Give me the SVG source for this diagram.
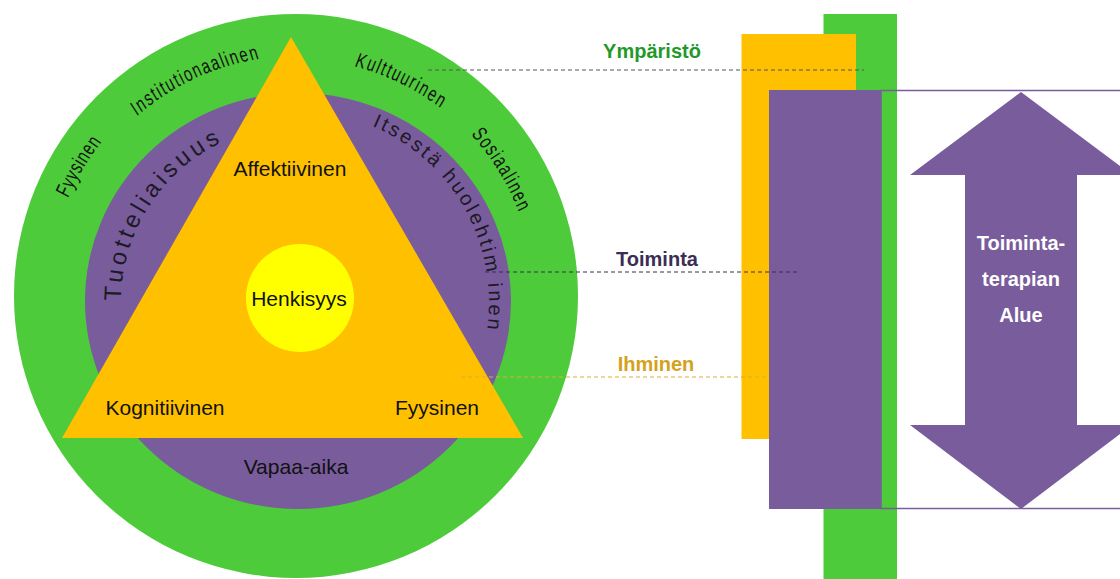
<svg xmlns="http://www.w3.org/2000/svg" xmlns:xlink="http://www.w3.org/1999/xlink" width="1120" height="579" viewBox="0 0 1120 579">
<style>
.green{fill:#4ECB3A}
.purple{fill:#795C9C}
.amber{fill:#FFC000}
.lbl{font-family:"Liberation Sans",Arial,sans-serif;font-size:21px;fill:#111;text-anchor:middle}
.ring{font-family:"Liberation Sans",Arial,sans-serif;font-size:21px;fill:#111;text-anchor:middle}
.ring2{font-family:"Liberation Sans",Arial,sans-serif;fill:#1c1a24}
.side{font-family:"Liberation Sans",Arial,sans-serif;font-size:20px;font-weight:bold;text-anchor:middle}
.arrowtxt{font-family:"Liberation Sans",Arial,sans-serif;font-size:20px;font-weight:bold;fill:#fff;text-anchor:middle}
.dash{stroke-width:1;stroke-dasharray:4 3;fill:none}
</style>
<defs>
<path id="e248" d="M -354.3,0 A 354.3 248 0 0 1 354.3,0"/>
<path id="e240" d="M -342.9,0 A 342.9 240 0 0 1 342.9,0"/>
<path id="e237" d="M -338.6,0 A 338.6 237 0 0 1 338.6,0"/>
<path id="e238" d="M -340,0 A 340 238 0 0 1 340,0"/>
<path id="p177" d="M 121,302 A 177 177 0 0 1 475,302 A 177 177 0 0 1 298,479"/>
<path id="p191" d="M 107,302 A 191 191 0 0 1 489,302 A 191 191 0 0 1 298,493"/>
</defs>

<g id="environment-ring">
<circle class="green" cx="296" cy="296" r="282"/>
<g transform="translate(296,296) rotate(-59.2) scale(0.7,1)">
<text class="ring"><textPath xlink:href="#e248" startOffset="50%" textLength="94" lengthAdjust="spacing">Fyysinen</textPath></text>
</g>
<g transform="translate(296,296) rotate(-25.2) scale(0.7,1)">
<text class="ring"><textPath xlink:href="#e240" startOffset="50%" textLength="195" lengthAdjust="spacing">Institutionaalinen</textPath></text>
</g>
<g transform="translate(296,296) rotate(25.9) scale(0.7,1)">
<text class="ring"><textPath xlink:href="#e237" startOffset="50%" textLength="138" lengthAdjust="spacing">Kulttuurinen</textPath></text>
</g>
<g transform="translate(296,296) rotate(58.3) scale(0.7,1)">
<text class="ring"><textPath xlink:href="#e238" startOffset="50%" textLength="131" lengthAdjust="spacing">Sosiaalinen</textPath></text>
</g>
</g>

<g id="occupation-ring">
<ellipse class="purple" cx="298" cy="301" rx="213" ry="208"/>
<text class="ring2" font-size="24"><textPath xlink:href="#p177" startOffset="1" textLength="197" lengthAdjust="spacing">Tuotteliaisuus</textPath></text>
<text class="ring2" font-size="20"><textPath xlink:href="#p191" startOffset="376" textLength="251" lengthAdjust="spacing">Itsestä huolehtim inen</textPath></text>
<text class="lbl" x="296" y="474">Vapaa-aika</text>
</g>

<g id="person-triangle">
<polygon class="amber" points="291,37 523,438 62,438"/>
<text class="lbl" x="290" y="176">Affektiivinen</text>
<text class="lbl" x="165" y="415">Kognitiivinen</text>
<text class="lbl" x="437" y="415">Fyysinen</text>
</g>

<g id="spirituality">
<circle cx="300" cy="298" r="54" fill="#FFFF00"/>
<text class="lbl" x="299" y="306">Henkisyys</text>
</g>

<g id="bars">
<rect class="green" x="823.5" y="14" width="73.5" height="570"/>
<rect class="amber" x="741.5" y="34" width="114.5" height="405"/>
<rect class="purple" x="769" y="90" width="112" height="419"/>
<rect x="881" y="90.5" width="260" height="418" fill="none" stroke="#795C9C" stroke-width="1.5"/>
</g>

<g id="ot-arrow">
<polygon class="purple" points="1021,92 1132,175 1077,175 1077,425 1132,425 1021,509 910,425 965,425 965,175 910,175"/>
<text class="arrowtxt" x="1021" y="250">Toiminta-</text>
<text class="arrowtxt" x="1021" y="286">terapian</text>
<text class="arrowtxt" x="1021" y="322">Alue</text>
</g>

<g id="side-labels">
<text class="side" x="652" y="58" fill="#1F9A2A">Ympäristö</text>
<text class="side" x="657" y="266" fill="#3B2D55">Toiminta</text>
<text class="side" x="656" y="371" fill="#D4A21A">Ihminen</text>
</g>

<g id="connectors">
<line class="dash" x1="428" y1="70" x2="864" y2="70" stroke="#555"/>
<line class="dash" x1="485" y1="272" x2="799" y2="272" stroke="#3B2D55"/>
<line class="dash" x1="461" y1="377" x2="768" y2="377" stroke="#D9AE3A"/>
</g>
</svg>
